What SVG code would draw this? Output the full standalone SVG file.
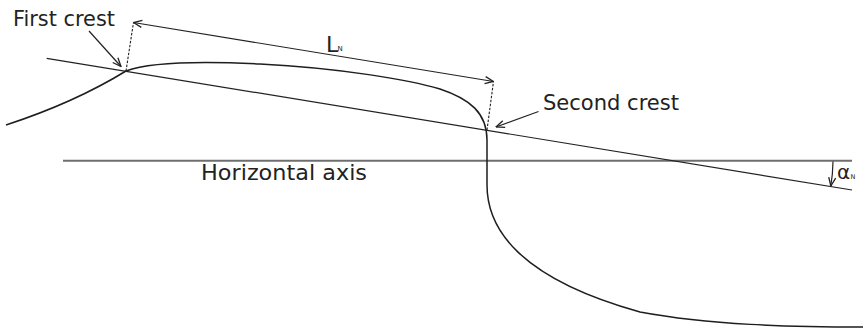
<svg xmlns="http://www.w3.org/2000/svg" width="863" height="329" viewBox="0 0 863 329">
  <style>
    .ln { fill: none; stroke: #222; stroke-width: 1.2; }
    .curve { fill: none; stroke: #1e1e1e; stroke-width: 1.5; }
    .dash { fill: none; stroke: #222; stroke-width: 1.1; stroke-dasharray: 2.5 1.5; }
    .axis { fill: none; stroke: #6e6e6e; stroke-width: 2; }
    .lbl { font-family: "DejaVu Sans", sans-serif; fill: #222; }
  </style>
  <defs>
    <marker id="arr" viewBox="0 0 10 10" refX="9.5" refY="5" markerWidth="10" markerHeight="10" markerUnits="userSpaceOnUse" orient="auto-start-reverse">
      <path d="M1,1.5 L9.5,5 L1,8.5" fill="none" stroke="#222" stroke-width="1.3"/>
    </marker>
  </defs>
  <rect width="863" height="329" fill="#fff"/>

  <g id="horizontal-axis">
    <line class="axis" x1="63" y1="160.7" x2="852" y2="160.7"/>
    <text class="lbl" x="201" y="179.5" font-size="22" textLength="166" lengthAdjust="spacingAndGlyphs">Horizontal axis</text>
  </g>

  <g id="inclined-line">
    <line class="ln" x1="46.7" y1="58.3" x2="852" y2="190"/>
  </g>

  <g id="wave-profile">
    <path class="curve" d="M6,125 C55,109 95,90 126,71 C150,62 200,61 260,64 C340,68 410,80 440,89 C470,99 487,113 487,140 L487,185 C487,228 518,278 640,312 C710,325 790,327 863,327"/>
  </g>

  <g id="first-crest">
    <text class="lbl" x="13" y="26" font-size="21" textLength="102" lengthAdjust="spacingAndGlyphs">First crest</text>
  </g>

  <g id="second-crest">
    <text class="lbl" x="543" y="110" font-size="21" textLength="136" lengthAdjust="spacingAndGlyphs">Second crest</text>
  </g>

  <g id="length-label">
    <text class="lbl" x="326" y="51.5" font-size="22">L</text>
    <text class="lbl" x="337.5" y="51" font-size="7">N</text>
  </g>

  <g id="angle-label">
    <text class="lbl" x="837" y="179" font-size="20">α</text>
    <text class="lbl" x="850.5" y="179" font-size="6.5">N</text>
  </g>

  <g id="connectors">
    <line class="dash" x1="126" y1="71" x2="133.5" y2="22.5"/>
    <line class="dash" x1="487" y1="130" x2="493.5" y2="81.5"/>
    <line class="ln" x1="133.5" y1="22.5" x2="493.5" y2="81.5" marker-start="url(#arr)" marker-end="url(#arr)"/>
    <line class="ln" x1="89" y1="31" x2="121" y2="66.5" marker-end="url(#arr)"/>
    <line class="ln" x1="538.5" y1="111.5" x2="496" y2="127" marker-end="url(#arr)"/>
    <path class="ln" d="M833,161.5 A160,160 0 0 1 830.8,186" marker-end="url(#arr)"/>
  </g>
</svg>
